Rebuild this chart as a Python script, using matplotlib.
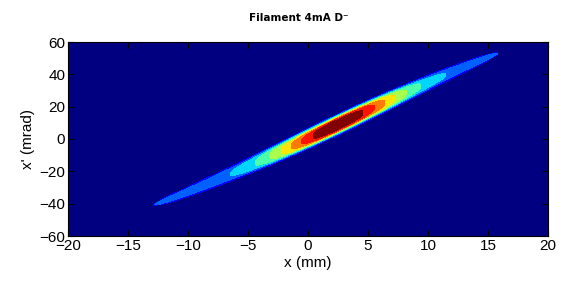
import numpy as np
import matplotlib.pyplot as plt

# beam parameters
centre = [2.5, 9.0]          # peak position: x (mm), x' (mrad)
slope = 3.5                  # mrad per mm along the ellipse axis
bend = -0.0011               # cubic bend of the tails
core = [0.75, 3.84]          # core amplitude, rms length along x (mm)
tail = [0.25, 15.3, 13.3]    # tail amplitude, reach left / right (mm)
thickness = 5.4              # vertical thickness at centre (mrad)
n_levels = 10

xticks = [-20, -15, -10, -5, 0, 5, 10, 15, 20]
yticks = [-60, -40, -20, 0, 20, 40, 60]

x = np.linspace(-20, 20, 801)
y = np.linspace(-60, 60, 961)
X, Y = np.meshgrid(x, y)
u = X - centre[0]
d = Y - (centre[1] + slope * u + bend * u**3)
reach = np.where(u < 0, tail[1], tail[2])
A = core[0] * np.exp(-u**2 / (2 * core[1]**2)) + tail[0]
# the band narrows to a point at the end of each tail
w = thickness * np.sqrt(np.clip(1 - (u / reach)**2, 1e-8, None))
Z = A * np.exp(-(np.abs(d) / w)**4)
Z = np.where(np.abs(u) < reach, Z, 0.0)

plt.rcParams['font.family'] = ['Liberation Sans', 'DejaVu Sans']
fig = plt.figure(figsize=(5.78, 2.81), dpi=100)
ax = fig.add_axes([68 / 578, 1 - 236 / 281, 480 / 578, 194 / 281])
band_colors = [plt.cm.jet(i / (n_levels - 1)) for i in range(n_levels)]
ax.set_facecolor(band_colors[0])
ax.contourf(X, Y, Z, levels=np.linspace(0, Z.max(), n_levels + 1), colors=band_colors)

ax.set_xlim(-20, 20)
ax.set_ylim(-60, 60)
ax.set_xticks(xticks)
ax.set_yticks(yticks)
ax.tick_params(direction='in', top=True, right=True, length=4, width=0.8,
               labelsize=11, pad=2)
ax.set_xlabel('x (mm)', fontsize=11, labelpad=2)
ax.set_ylabel("x' (mrad)", fontsize=11, labelpad=3)
ax.set_title('Filament 4mA D\u207b', fontsize=7.5, fontweight='bold',
             family='DejaVu Sans', pad=15, x=0.48)

fig.savefig('out.png', dpi=100)
